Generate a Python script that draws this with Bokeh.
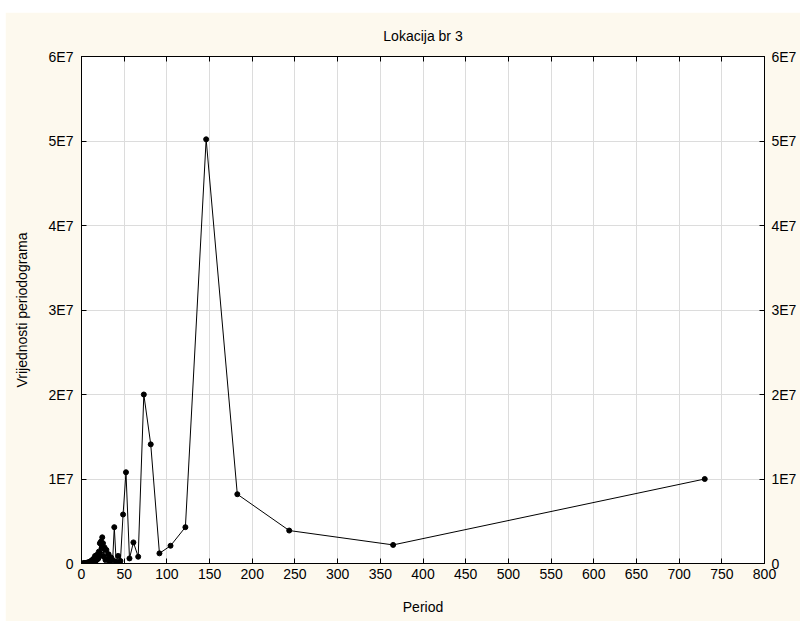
from bokeh.plotting import figure
from bokeh.models import LinearAxis, FixedTicker, CustomJSTickFormatter, Range1d
from bokeh.embed import file_html
from bokeh.resources import INLINE

# Periods (days) and periodogram values
period = [730.0, 365.0, 243.3, 182.5, 146.0, 121.7, 104.3, 91.3, 81.1, 73.0,
          66.4, 60.8, 56.2, 52.1, 48.7, 45.6, 42.9, 40.6, 38.4, 36.5,
          34.8, 33.2, 31.7, 30.4, 29.2, 28.1, 27.0, 26.1, 25.2, 24.3,
          23.5, 22.8, 22.1, 21.5, 20.9, 20.3, 19.7, 19.2, 18.7, 18.3,
          17.8, 17.4, 17.0, 16.6, 16.2, 15.9, 15.5, 15.2, 14.9, 14.6,
          14.0, 13.5, 13.0, 12.6, 12.2, 11.6, 11.1, 10.4, 9.7, 9.1,
          8.1, 7.3, 6.1, 4.9, 3.7, 2.9, 2.4, 2.0]
value = [10.0e6, 2.2e6, 3.9e6, 8.2e6, 50.2e6, 4.3e6, 2.1e6, 1.2e6, 14.1e6, 20.0e6,
         0.8e6, 2.5e6, 0.6e6, 10.8e6, 5.8e6, 0.3e6, 0.9e6, 0.2e6, 4.3e6, 0.4e6,
         0.7e6, 0.2e6, 1.1e6, 0.5e6, 1.6e6, 0.4e6, 1.9e6, 0.8e6, 2.4e6, 3.1e6,
         1.8e6, 2.6e6, 1.2e6, 2.4e6, 0.9e6, 1.4e6, 0.6e6, 1.1e6, 0.5e6, 0.8e6,
         1.0e6, 0.4e6, 0.7e6, 0.3e6, 0.6e6, 0.9e6, 0.4e6, 0.5e6, 0.2e6, 0.6e6,
         0.3e6, 0.5e6, 0.2e6, 0.4e6, 0.3e6, 0.2e6, 0.3e6, 0.1e6, 0.2e6, 0.1e6,
         0.15e6, 0.1e6, 0.08e6, 0.05e6, 0.04e6, 0.03e6, 0.02e6, 0.02e6]

x_ticks = [0, 50, 100, 150, 200, 250, 300, 350, 400, 450, 500, 550, 600, 650, 700, 750, 800]
y_ticks = [0, 1e7, 2e7, 3e7, 4e7, 5e7, 6e7]

FONT = "Liberation Sans"
CREAM = "#fdf9ee"

p = figure(width=795, height=609, output_backend="svg", toolbar_location=None,
           x_range=Range1d(0, 800), y_range=Range1d(0, 6e7),
           title="Lokacija br 3", margin=(12, 0, 0, 5),
           min_border_left=76, min_border_right=36, min_border_top=44, min_border_bottom=58)
p.border_fill_color = CREAM
p.background_fill_color = "white"
p.outline_line_color = "black"
p.outline_line_width = 1

p.title.align = "center"
p.title.text_font = FONT
p.title.text_font_size = "14px"
p.title.text_font_style = "normal"
p.title.text_color = "black"
p.title.standoff = 25

yfmt = CustomJSTickFormatter(code="return tick == 0 ? '0' : (tick/1e7).toFixed(0) + 'E7';")

def style_axis(ax, labels=True):
    ax.major_tick_in = 5
    ax.major_tick_out = 0
    ax.minor_tick_in = 0
    ax.minor_tick_out = 0
    ax.axis_line_color = "black"
    ax.major_tick_line_color = "black"
    ax.major_label_text_font = FONT
    ax.major_label_text_font_size = "14px"
    ax.major_label_text_color = "black" if labels else None
    ax.axis_label_text_font = FONT
    ax.axis_label_text_font_size = "14px"
    ax.axis_label_text_font_style = "normal"
    ax.axis_label_text_color = "black"

p.xaxis.ticker = FixedTicker(ticks=x_ticks)
p.yaxis.ticker = FixedTicker(ticks=y_ticks)
p.yaxis.formatter = yfmt
p.xaxis.axis_label = "Period"
p.yaxis.axis_label = "Vrijednosti periodograma"
style_axis(p.xaxis[0])
style_axis(p.yaxis[0])
p.xaxis.major_label_standoff = 5
p.xaxis.axis_label_standoff = 17
p.yaxis.major_label_standoff = 8
p.yaxis.axis_label_standoff = 16

ry = LinearAxis(ticker=FixedTicker(ticks=y_ticks), formatter=yfmt)
style_axis(ry)
ry.major_label_standoff = 7
p.add_layout(ry, "right")

tx = LinearAxis(ticker=FixedTicker(ticks=x_ticks))
style_axis(tx, labels=False)
p.add_layout(tx, "above")

p.xgrid.ticker = FixedTicker(ticks=x_ticks)
p.ygrid.ticker = FixedTicker(ticks=y_ticks)
p.grid.grid_line_color = "#dcdcdc"
p.grid.grid_line_width = 1

p.line(period, value, line_color="black", line_width=1)
p.scatter(period, value, size=5, fill_color="black", line_color="black")

open("out.html", "w").write(file_html(p, INLINE))
